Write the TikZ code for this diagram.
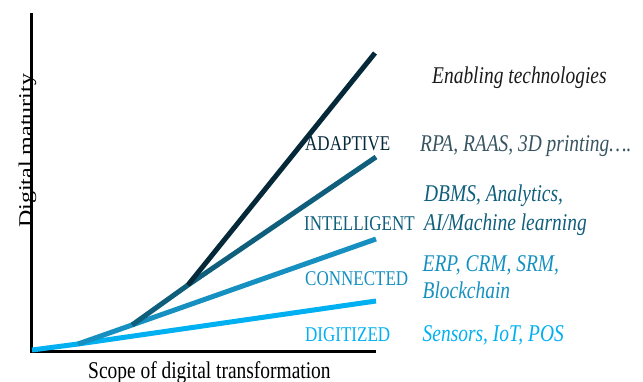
\documentclass[tikz,border=0pt]{standalone}
\usepackage{fontspec}
\setmainfont{Liberation Serif}
% narrow cut of the serif face for the horizontal labels
\newfontfamily\narrowserif[FakeStretch=0.81]{Liberation Serif}
\begin{document}
\definecolor{cdig}{HTML}{00B0F0}
\definecolor{ccon}{HTML}{1590C0}
\definecolor{cint}{HTML}{0E5E7C}
\definecolor{cada}{HTML}{06293A}
\definecolor{ctxt}{HTML}{1A1A1A}
\begin{tikzpicture}[x=1pt,y=-1pt,
  axis/.style={line width=3pt,black},
  trend/.style={line width=5pt},
  axislabel/.style={font=\fontsize{24}{28}\selectfont\narrowserif,inner sep=0pt,anchor=base west},
  stage/.style={font=\fontsize{21}{24}\selectfont\narrowserif,inner sep=0pt,anchor=base west},
  tech/.style={font=\fontsize{24}{28}\selectfont\narrowserif\itshape,inner sep=0pt,anchor=base west}]
\useasboundingbox (0,0) rectangle (643,381);
% axes
\coordinate (o) at (31,351);
\coordinate (ytop) at (31,13);
\coordinate (xend) at (376,351);
\draw[axis] (ytop) -- (o) -- (xend);
% break points of the growth curves
\coordinate (p0) at (32,350);
\coordinate (p1) at (78,344);
\coordinate (p2) at (132,325);
\coordinate (p3) at (188,285);
\coordinate (edig) at (376,301);
\coordinate (econ) at (376,239);
\coordinate (eint) at (376,157);
\coordinate (eada) at (375,53);
\draw[trend,cdig] (p0) -- (p1) -- (edig);
\draw[trend,ccon] (p1) -- (p2) -- (econ);
\draw[trend,cint] (p2) -- (p3) -- (eint);
\draw[trend,cada] (p3) -- (eada);
% axis titles
\node[font=\fontsize{24}{28}\selectfont,inner sep=0pt,anchor=base west,rotate=90] (ylab) at (32,228)
  {\scalebox{1}[0.81]{Digital maturity}};
\node[axislabel] (xlab) at (88,378) {Scope of digital transformation};
% stage names
\node[stage,text=cada] (ada) at (305,150) {ADAPTIVE};
\node[stage,text=cint] (int) at (304,230) {INTELLIGENT};
\node[stage,text=ccon] (con) at (305,285) {CONNECTED};
\node[stage,text=cdig] (dig) at (305,341.5) {DIGITIZED};
% enabling technologies
\node[tech,text=ctxt] (head) at (432,83) {Enabling technologies};
\node[tech,text=cada!80!white] (tada) at (420,151.5) {RPA, RAAS, 3D printing\dots.};
\node[tech,text=cint] (tint1) at (424,201.5) {DBMS, Analytics,};
\node[tech,text=cint] (tint2) at (424,230) {AI/Machine learning};
\node[tech,text=ccon] (tcon1) at (422.5,271.5) {ERP, CRM, SRM,};
\node[tech,text=ccon] (tcon2) at (422.5,298) {Blockchain};
\node[tech,text=cdig] (tdig) at (422.5,341.5) {Sensors, IoT, POS};
\end{tikzpicture}
\end{document}
